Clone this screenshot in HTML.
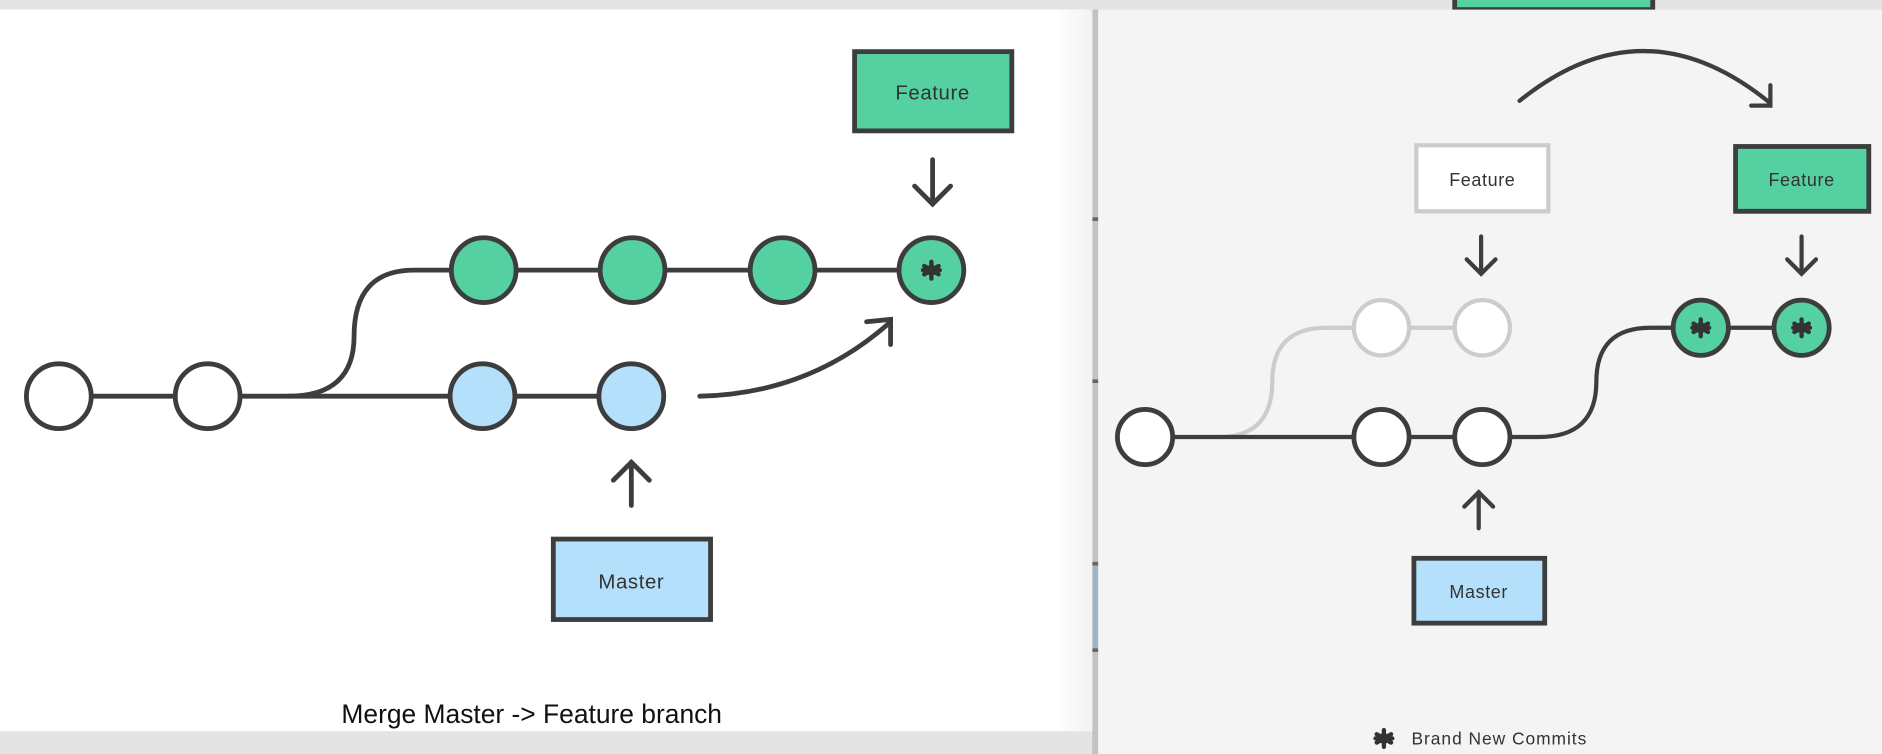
<!DOCTYPE html>
<html><head><meta charset="utf-8"><style>
html,body{margin:0;padding:0;background:#e9e9e9;}
svg{display:block}
text{font-family:"Liberation Sans",sans-serif;}
</style></head><body>
<svg width="1882" height="754" viewBox="0 0 1568 628" preserveAspectRatio="none" xmlns="http://www.w3.org/2000/svg">
<defs>
<linearGradient id="sh" x1="0" x2="1"><stop offset="0" stop-color="#fff"/><stop offset="1" stop-color="#f2f2f2"/></linearGradient>
<g id="star"><g stroke="#333" stroke-width="3.6" stroke-linecap="round"><line x1="0" y1="-7" x2="0" y2="7"/><line x1="-6" y1="-3.5" x2="6" y2="3.5"/><line x1="-6" y1="3.5" x2="6" y2="-3.5"/><line x1="-7" y1="0" x2="7" y2="0"/></g><circle r="4.5" fill="#333"/></g>
</defs>
<rect x="0" y="0" width="1568" height="628" fill="#e4e4e4"/>
<rect x="1212" y="-12" width="165" height="20" fill="#55d0a0" stroke="#3d3d3d" stroke-width="4"/>
<rect x="910" y="8" width="5" height="620" fill="#c2c2c2"/>
<rect x="910" y="470" width="5" height="70" fill="#9fb4c4"/>
<g fill="#666"><rect x="910" y="181" width="5" height="3"/><rect x="910" y="316" width="5" height="3"/><rect x="910" y="468" width="5" height="3"/><rect x="910" y="540" width="5" height="3"/></g>
<rect x="0" y="8" width="910" height="601" fill="#fff"/>
<rect x="880" y="8" width="30" height="601" fill="url(#sh)"/>
<rect x="915" y="8" width="653" height="620" fill="#f4f4f4"/>

<g fill="none" stroke="#3d3d3d" stroke-width="4" stroke-linecap="round">
<line x1="49" y1="330" x2="526" y2="330"/>
<path d="M240 330 Q295 330 295 280 Q295 225 345 225 L776 225"/>
<path d="M583 330 Q675 328 742 268"/>
<path d="M722 268 L742 266 L742 287"/>
<line x1="777" y1="133" x2="777" y2="170"/>
<path d="M762 155 L777 170 L792 155"/>
<line x1="526" y1="385" x2="526" y2="421"/>
<path d="M511 400 L526 385 L541 400"/>
</g>
<g stroke="#3d3d3d" stroke-width="4">
<circle cx="49" cy="330" r="27" fill="#fff"/>
<circle cx="173" cy="330" r="27" fill="#fff"/>
<circle cx="402" cy="330" r="27" fill="#b5e0fb"/>
<circle cx="526" cy="330" r="27" fill="#b5e0fb"/>
<circle cx="403" cy="225" r="27" fill="#55d0a0"/>
<circle cx="527" cy="225" r="27" fill="#55d0a0"/>
<circle cx="652" cy="225" r="27" fill="#55d0a0"/>
<circle cx="776" cy="225" r="27" fill="#55d0a0"/>
<rect x="712" y="43" width="131" height="66" fill="#55d0a0"/>
<rect x="461" y="449" width="131" height="67" fill="#b5e0fb"/>
</g>
<use href="#star" x="776" y="225"/>
<text x="777" y="83" font-size="17" text-anchor="middle" fill="#333" letter-spacing="0.5">Feature</text>
<text x="526" y="490" font-size="17" text-anchor="middle" fill="#333" letter-spacing="0.5">Master</text>
<text x="443" y="602" font-size="22" text-anchor="middle" fill="#111">Merge Master -&gt; Feature branch</text>

<g fill="none" stroke="#cccccc" stroke-width="3.5">
<path d="M1015 364 Q1060 364 1060 318 Q1060 273 1105 273 L1235 273"/>
</g>
<g stroke="#cccccc" stroke-width="3.5" fill="#fff">
<circle cx="1151" cy="273" r="23"/>
<circle cx="1235" cy="273" r="23"/>
<rect x="1180" y="121" width="110" height="55"/>
</g>
<g fill="none" stroke="#3d3d3d" stroke-width="3.5" stroke-linecap="round">
<line x1="954" y1="364" x2="1235" y2="364"/>
<path d="M1235 364 L1282 364 Q1330 364 1330 318 Q1330 273 1375 273 L1501 273"/>
<path d="M1266 84 Q1370 0 1475 86"/>
<path d="M1459 88 L1475 88 L1475 71"/>
<line x1="1234" y1="197" x2="1234" y2="228"/>
<path d="M1222 216 L1234 228 L1246 216"/>
<line x1="1501" y1="197" x2="1501" y2="228"/>
<path d="M1489 216 L1501 228 L1513 216"/>
<line x1="1232" y1="410" x2="1232" y2="440"/>
<path d="M1220 422 L1232 410 L1244 422"/>
</g>
<g stroke="#3d3d3d" stroke-width="4">
<circle cx="954" cy="364" r="23" fill="#fff"/>
<circle cx="1151" cy="364" r="23" fill="#fff"/>
<circle cx="1235" cy="364" r="23" fill="#fff"/>
<circle cx="1417" cy="273" r="23" fill="#55d0a0"/>
<circle cx="1501" cy="273" r="23" fill="#55d0a0"/>
<rect x="1446" y="122" width="111" height="54" fill="#55d0a0"/>
<rect x="1178" y="465" width="109" height="54" fill="#b5e0fb"/>
</g>
<use href="#star" x="1417" y="273"/>
<use href="#star" x="1501" y="273"/>
<text x="1235" y="155" font-size="15" text-anchor="middle" fill="#333" letter-spacing="0.5">Feature</text>
<text x="1501" y="155" font-size="15" text-anchor="middle" fill="#333" letter-spacing="0.5">Feature</text>
<text x="1232" y="498" font-size="15" text-anchor="middle" fill="#333" letter-spacing="0.5">Master</text>
<use href="#star" x="1153" y="615"/>
<text x="1176" y="620" font-size="14.5" fill="#333" letter-spacing="0.8">Brand New Commits</text>
</svg>
</body></html>
